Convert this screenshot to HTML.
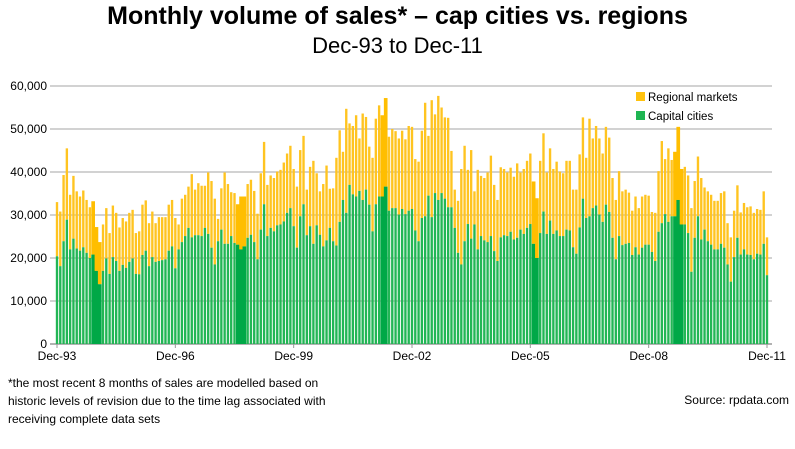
<!DOCTYPE html>
<html><head><meta charset="utf-8"><style>
body{margin:0;background:#fff;font-family:"Liberation Sans",sans-serif;}
#wrap{position:relative;width:795px;height:449px;overflow:hidden;}
.t{position:absolute;white-space:nowrap;color:#000;}
</style></head><body>
<div id="wrap">
<div class="t" style="left:0;width:795px;text-align:center;top:2px;font-size:25px;font-weight:bold;">Monthly volume of sales* – cap cities vs. regions</div>
<div class="t" style="left:0;width:795px;text-align:center;top:33px;font-size:22px;">Dec-93 to Dec-11</div>
<svg id="plot" width="795" height="449" style="position:absolute;left:0;top:0"></svg>
<div class="t" style="left:8px;top:374px;font-size:12px;line-height:18px;">*the most recent 8 months of sales are modelled based on<br>historic levels of revision due to the time lag associated with<br>receiving complete data sets</div>
<div class="t" style="right:6px;top:393px;font-size:12px;">Source: rpdata.com</div>
</div>
<script>
const total=[33.0,30.8,39.3,45.5,34.7,39.1,35.5,34.3,35.7,33.5,31.8,33.2,27.2,23.7,27.8,31.6,25.8,32.2,30.5,27.1,29.3,28.5,30.5,31.2,25.8,26.2,32.4,33.4,28.1,30.8,28.1,29.5,29.5,29.5,32.4,33.5,29.3,27.8,33.8,34.7,36.6,39.5,35.9,37.4,36.8,36.8,39.9,37.9,33.8,29.1,36.2,39.9,
37.2,35.3,35.1,32.5,34.3,34.3,37.2,38.2,35.6,30.3,39.7,47.0,37.0,39.2,38.6,40.1,40.5,42.2,44.3,46.1,40.7,36.6,45.1,48.4,35.9,41.2,42.6,39.7,35.5,37.2,41.5,36.1,36.2,43.3,49.7,44.7,54.7,51.3,50.7,53.2,47.8,53.6,52.8,45.9,43.3,52.4,55.5,53.2,57.2,48.2,50.0,49.5,47.8,
49.6,47.6,50.7,50.5,43.0,42.4,49.6,56.1,48.4,56.7,53.4,57.7,55.0,52.7,52.6,44.9,35.9,33.3,40.7,46.1,40.5,45.1,35.5,40.5,39.1,38.6,39.9,43.8,37.0,33.5,41.1,40.7,39.9,41.0,38.9,42.0,39.9,40.7,42.6,44.3,37.8,33.9,42.6,49.0,39.9,45.5,40.7,42.4,40.1,39.7,42.6,42.6,35.9,35.9,44.1,52.7,43.3,52.4,
47.8,50.7,47.8,44.3,50.5,48.0,38.6,33.5,40.2,35.5,35.9,35.2,31.0,34.3,31.6,34.3,34.7,34.5,30.7,30.5,40.2,47.2,43.0,45.5,42.8,44.7,50.5,40.7,41.2,39.2,31.6,37.9,43.6,38.6,36.4,35.5,34.7,33.3,33.3,35.1,35.5,28.1,24.8,31.0,36.9,30.6,32.8,31.8,32.0,30.5,31.4,31.2,35.5,24.8];
const capital=[20.4,18.1,23.9,28.9,22.0,24.5,22.2,21.7,22.5,21.2,20.0,20.8,17.0,13.9,17.0,19.9,16.3,20.2,19.3,17.0,18.4,17.7,19.1,19.9,16.3,16.2,20.7,21.7,18.1,20.2,19.1,19.3,19.5,19.7,21.7,22.7,17.6,22.0,23.7,25.1,27.0,24.8,25.3,25.3,25.1,27.0,25.6,22.4,18.5,23.9,26.6,23.3,
23.3,25.1,23.5,23.1,22.0,22.7,24.7,25.4,23.7,19.7,26.6,32.5,25.1,27.0,26.2,27.6,27.8,28.5,30.5,31.6,27.4,22.4,29.7,32.5,25.3,27.4,23.3,27.6,25.4,22.7,24.1,27.0,23.9,22.9,28.4,33.5,30.5,37.0,34.8,34.3,35.6,33.5,35.9,32.4,26.2,32.5,34.3,34.3,36.6,31.0,31.6,31.6,30.1,
31.4,30.2,31.0,31.4,26.4,23.9,29.3,29.7,34.5,29.5,35.1,33.5,35.1,33.8,31.8,31.8,27.0,21.2,18.5,23.9,27.9,24.5,27.8,22.0,25.1,24.1,23.7,25.1,21.6,19.3,24.8,25.3,25.1,26.1,24.3,24.7,26.6,25.6,27.0,27.9,23.3,20.0,25.8,30.8,25.6,28.7,25.6,26.4,25.1,25.1,26.6,26.4,22.5,21.0,27.1,33.8,29.3,29.7,
31.6,32.2,30.1,28.4,32.4,30.7,24.7,19.7,25.1,23.0,23.3,23.5,20.7,22.5,20.8,22.4,23.1,23.1,21.4,19.3,26.1,28.1,30.2,28.4,29.7,29.7,33.5,27.8,27.8,25.8,16.8,24.7,29.7,24.3,26.6,23.9,23.1,22.0,22.0,23.3,22.4,18.5,14.5,20.2,24.7,20.8,22.0,20.8,20.7,19.7,21.0,20.8,23.3,16.0];
const yTicks=[0,10000,20000,30000,40000,50000,60000];
const xTickLabels=["Dec-93","Dec-96","Dec-99","Dec-02","Dec-05","Dec-08","Dec-11"];
const mergedBars=[11,12,13,55,56,57,99,100,145,146,188,189,190];
const NS="http://www.w3.org/2000/svg";
const svg=document.getElementById('plot');
const x0=57,x1=767,yb=344,yt=86;
const n=capital.length;
const step=(x1-x0)/(n-1);
function X(i){return x0+i*step;}
function Y(v){return yb-(v/60000)*(yb-yt);}
function mk(t,a){const e=document.createElementNS(NS,t);for(const k in a)e.setAttribute(k,a[k]);svg.appendChild(e);return e;}
yTicks.forEach((v,i)=>{
 const g=mk('line',{x1:50,x2:772,y1:Y(v),y2:Y(v),stroke:i==0?'#999':'#c4c4c4','stroke-width':1.5});
 
 
 const t=mk('text',{x:47,y:Y(v)+4,'text-anchor':'end','font-size':12,'font-family':'Liberation Sans, sans-serif'});
 t.textContent=v.toLocaleString('en-US');
 
 
});
for(let i=0;i<n;i++){
 const merged=mergedBars.indexOf(i)>=0;
 const bw=merged?step+0.4:step*0.72;
 const tot=total[i]*1000,cap=capital[i]*1000;
 const r1=mk('rect',{x:X(i)-bw/2,y:Y(tot),width:bw,height:Y(cap)-Y(tot),fill:merged?'#ffbe00':'#ffc420'});
 
 
 const r2=mk('rect',{x:X(i)-bw/2,y:Y(cap),width:bw,height:yb-Y(cap),fill:merged?'#00a847':'#22b655'});
 
 
}
xTickLabels.forEach((s,k)=>{
 const x=X(k*36);
 const l=mk('line',{x1:x,x2:x,y1:yb,y2:yb+4,stroke:'#999'});
 
 
 const t=mk('text',{x:x,y:360,'text-anchor':'middle','font-size':12,'font-family':'Liberation Sans, sans-serif'});
 t.textContent=s;
 
 
});
const leg=[["Regional markets","#ffc20e",101],["Capital cities","#1fb552",120]];
leg.forEach(d=>{
 const r=mk('rect',{x:636,y:d[2]-9,width:9,height:9,fill:d[1]});
 
 
 const t=mk('text',{x:648,y:d[2],'font-size':11.5,'font-family':'Liberation Sans, sans-serif'});
 t.textContent=d[0];
 
 
});
</script>
</body></html>
